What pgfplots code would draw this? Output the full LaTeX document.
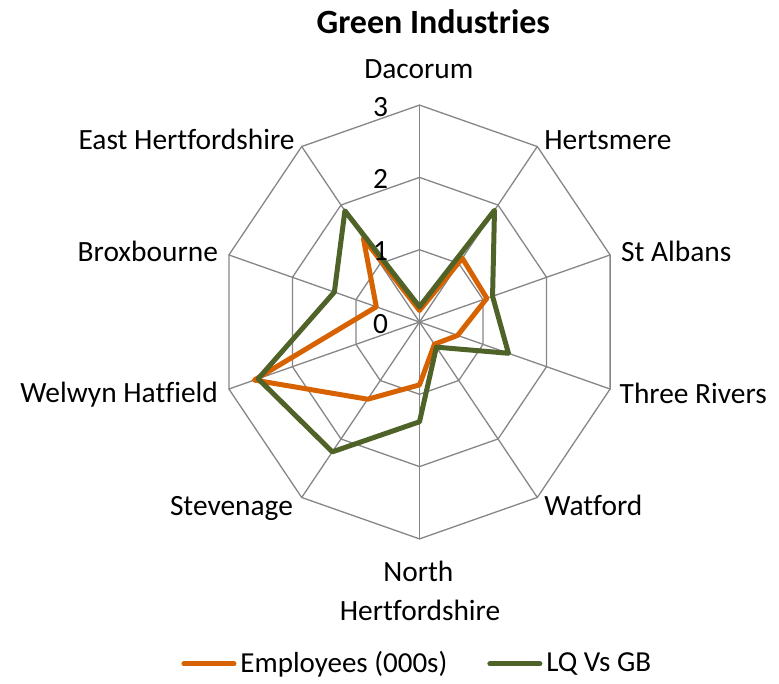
\documentclass[border=0pt]{standalone}
\usepackage{fontspec}
\setmainfont{Carlito}[Ligatures={NoCommon}]
\usepackage{pgfplots}
\usepgfplotslibrary{polar}
\pgfplotsset{compat=1.18}
\definecolor{empor}{RGB}{215,98,2}
\definecolor{lqgreen}{RGB}{79,98,40}
\definecolor{gridgr}{RGB}{134,134,134}
\newcommand\lbl{\fontsize{14.7}{17.5}\selectfont}

\begin{document}
\begin{tikzpicture}
\path[use as bounding box] (-209.75pt,-180.5pt) rectangle (179.75pt,161pt);
\begin{axis}[
  anchor=origin, at={(0,0)},
  x=33.4pt, y=36.15pt,
  xmin=-3, xmax=3, ymin=-3, ymax=3,
  hide axis, clip=false,
  legend columns=2,
  legend style={at={(axis description cs:0.497,-0.288)}, anchor=center,
    draw=none, fill=none, font=\fontsize{14.5}{17}\selectfont,
    /tikz/every even column/.append style={column sep=18pt}},
  legend image code/.code={\draw[#1] (0pt,0pt) -- (25pt,0pt);},
  every axis plot/.append style={line join=round, line cap=round},
]
% decagon rings
\pgfplotsinvokeforeach{1,2,3}{
\addplot[gridgr, line width=0.65pt, data cs=polar, forget plot] coordinates {
  (90,#1) (54,#1) (18,#1) (-18,#1) (-54,#1) (-90,#1) (-126,#1) (-162,#1) (162,#1) (126,#1) (90,#1)};
}
% spokes
\pgfplotsinvokeforeach{90,54,18,-18,-54,-90,-126,-162,162,126}{
\addplot[gridgr, line width=0.65pt, data cs=polar, forget plot] coordinates {(#1,0) (#1,3)};
}
% Employees (000s)
\addplot[empor, line width=2.5pt, data cs=polar] coordinates {
  (90,0.16) (54,1.09) (18,1.06) (-18,0.60) (-54,0.38) (-90,0.87)
  (-126,1.32) (-162,2.60) (162,0.68) (126,1.43) (90,0.16)};
\addlegendentry{Employees (000s)}
% LQ Vs GB
\addplot[lqgreen, line width=2.5pt, data cs=polar] coordinates {
  (90,0.21) (54,1.91) (18,1.15) (-18,1.40) (-54,0.43) (-90,1.38)
  (-126,2.22) (-162,2.54) (162,1.34) (126,1.90) (90,0.21)};
\addlegendentry{LQ Vs GB}
% radial tick labels
\pgfplotsinvokeforeach{0,1,2,3}{
  \node[anchor=base east, font=\lbl, inner sep=0pt, xshift=-15.6pt, yshift=-5.6pt] at (axis cs:0,#1) {#1};
}
\end{axis}
\node[anchor=base, inner sep=0pt, font=\bfseries\fontsize{17}{20}\selectfont] at (6.9pt,144.35pt) {Green Industries};
\begin{scope}[every node/.style={inner sep=0pt, font=\lbl}]
\node[anchor=base] at (-0.35pt,121.85pt) {Dacorum};
\node[anchor=base west] at (62.25pt,86.35pt) {Hertsmere};
\node[anchor=base west] at (100.6pt,30.15pt) {St Albans};
\node[anchor=base west] at (99.9pt,-40.65pt) {Three Rivers};
\node[anchor=base west] at (62.25pt,-96.5pt) {Watford};
\node[anchor=base] at (-0.6pt,-129.85pt) {North};
\node[anchor=base] at (0.25pt,-149pt) {Hertfordshire};
\node[anchor=base east] at (-63.1pt,-96.5pt) {Stevenage};
\node[anchor=base east] at (-100.6pt,-40.35pt) {Welwyn Hatfield};
\node[anchor=base east] at (-100.6pt,30.15pt) {Broxbourne};
\node[anchor=base east] at (-62.25pt,86.35pt) {East Hertfordshire};
\end{scope}
\end{tikzpicture}
\end{document}
